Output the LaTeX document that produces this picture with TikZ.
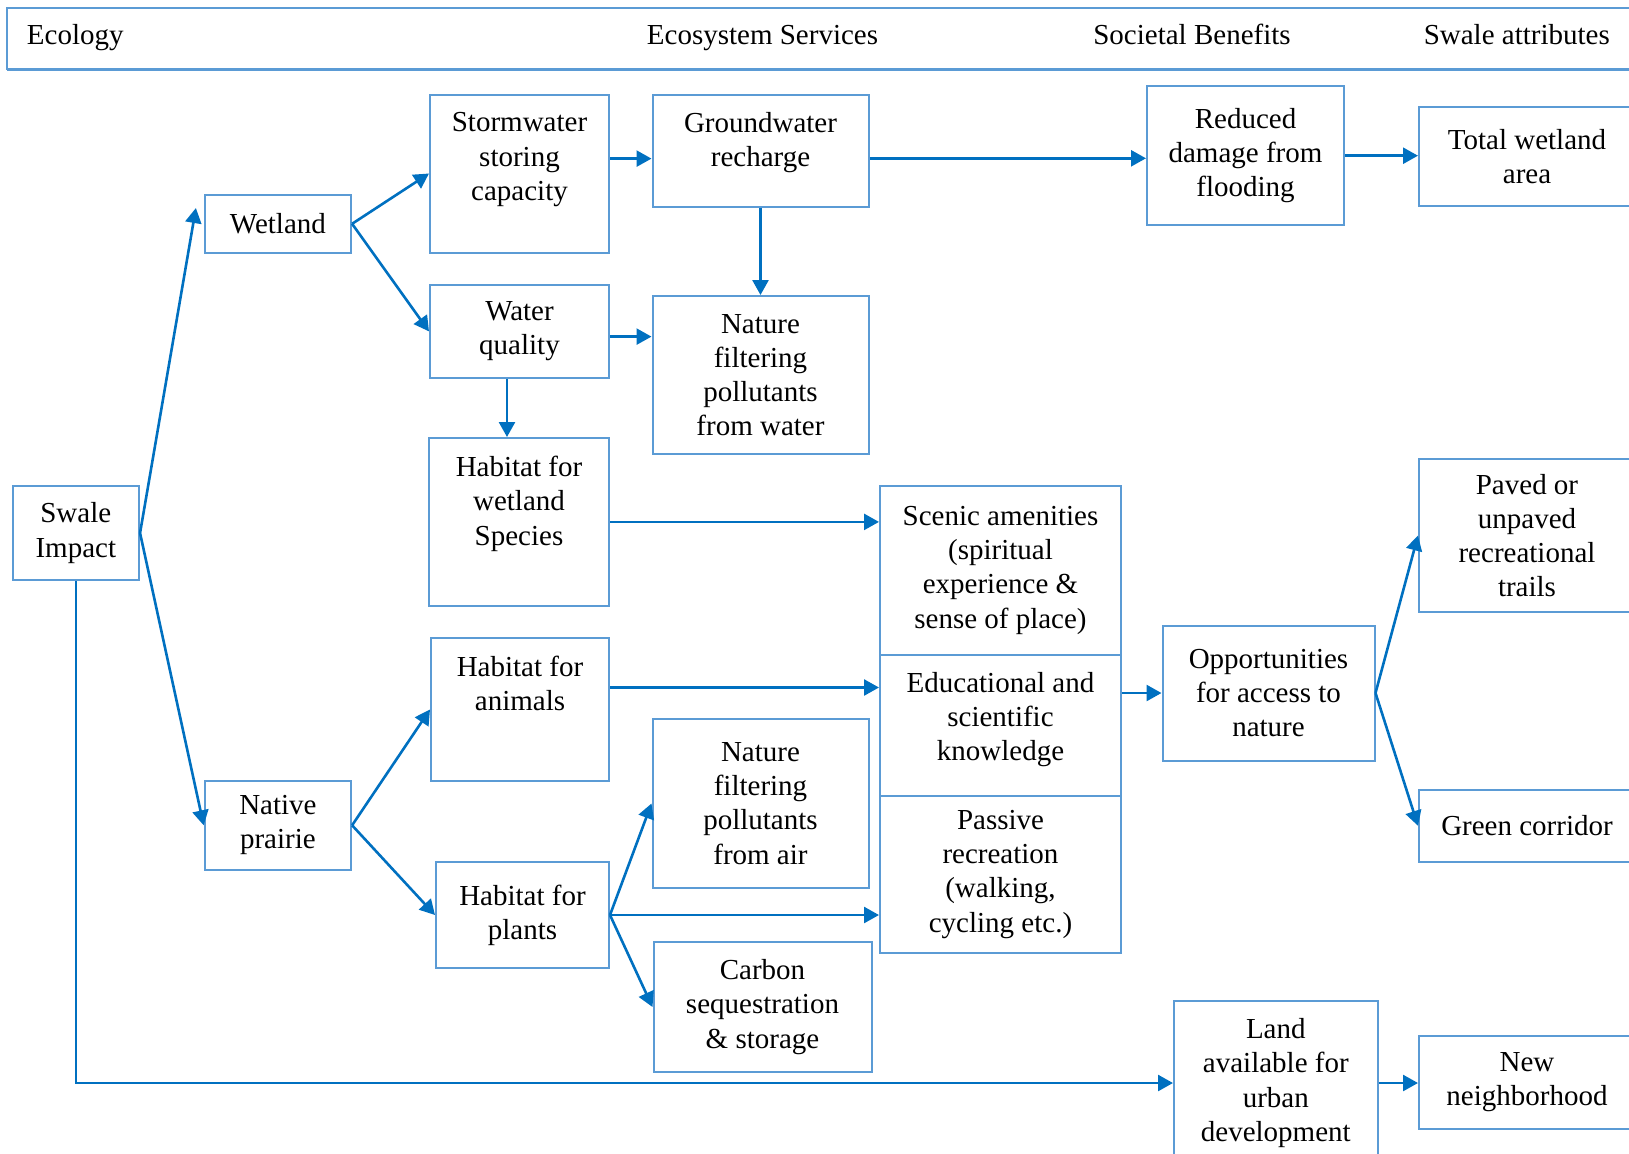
\documentclass[tikz,border=0pt]{standalone}
\usepackage{fontspec}
\setmainfont{Liberation Serif}
\usetikzlibrary{arrows.meta}
\definecolor{linkblue}{RGB}{0,112,192}
\definecolor{edgeblue}{RGB}{91,155,213}
\begin{document}
\begin{tikzpicture}[x=0.5pt,y=-0.5pt,
    >={Triangle[length=7.5pt,width=8pt]},
    box/.style={draw=edgeblue,line width=1pt,align=center,inner sep=0pt,
      font=\fontsize{14.5}{17.1}\selectfont},
    arr/.style={->,draw=linkblue,line width=1.3pt},
    head/.style={anchor=base,font=\fontsize{14.5}{17.1}\selectfont}]
\useasboundingbox (0,0) rectangle (1629,1153);
\draw[edgeblue,line width=1pt] (1640,8.3) -- (7.3,8.3) -- (7.3,69.6);
\draw[edgeblue,line width=1.6pt] (7.3,69.6) -- (1640,69.6);
\node[head] (hecol) at (75.3,44.5) {Ecology};
\node[head] (hserv) at (762.5,44.5) {Ecosystem Services};
\node[head] (hben) at (1192,44.5) {Societal Benefits};
\node[head] (hattr) at (1516.8,44.5) {Swale attributes};

\node[box,minimum width=63.25pt,minimum height=47pt] (swale) at (75.8,533) {Swale\\Impact};
\node[box,minimum width=73.2pt,minimum height=28.8pt] (wetland) at (277.9,223.8) {Wetland};
\node[box,minimum width=73.2pt,minimum height=44.3pt] (native) at (277.9,825.3) {Native\\prairie};
\node[box,minimum width=89.5pt,minimum height=79pt] (storm) at (519.5,173.5) {Stormwater\\storing\\capacity\\~};
\node[box,minimum width=89.5pt,minimum height=46.7pt] (waterq) at (519.5,331.4) {Water\\quality};
\node[box,minimum width=90pt,minimum height=83.9pt] (hwet) at (519,521.9) {Habitat for\\wetland\\Species\\[4.2pt]~};
\node[box,minimum width=89pt,minimum height=71.5pt] (animals) at (520,709.5) {Habitat for\\animals\\[9.4pt]~};
\node[box,minimum width=86.5pt,minimum height=53pt] (plants) at (522.5,915) {Habitat for\\plants};
\node[box,minimum width=108pt,minimum height=56pt] (gw) at (760.5,150.6) {Groundwater\\recharge\\[-6.1pt]~};
\node[box,minimum width=108pt,minimum height=79pt] (nwater) at (760.5,375) {Nature\\filtering\\pollutants\\from water};
\node[box,minimum width=108pt,minimum height=84.5pt] (nair) at (760.5,803.5) {Nature\\filtering\\pollutants\\from air};
\node[box,minimum width=109pt,minimum height=65pt] (carbon) at (762.5,1007) {Carbon\\sequestration\\\& storage};
\node[box,minimum width=120.5pt,minimum height=84.3pt] (scenic) at (1000.5,570.3) {Scenic amenities\\(spiritual\\experience \&\\sense of place)};
\node[box,minimum width=120.5pt,minimum height=70.8pt] (educ) at (1000.5,725.3) {Educational and\\scientific\\knowledge\\[-8.5pt]~};
\node[box,minimum width=120.5pt,minimum height=78.3pt] (passive) at (1000.5,874.3) {Passive\\recreation\\(walking,\\cycling etc.)};
\node[box,minimum width=98.5pt,minimum height=69.7pt] (reduced) at (1245.5,155.7) {Reduced\\damage from\\flooding};
\node[box,minimum width=106pt,minimum height=67.5pt] (opp) at (1268.5,693) {Opportunities\\for access to\\nature};
\node[box,minimum width=101.8pt,minimum height=81.8pt] (land) at (1275.8,1083) {Land\\available for\\urban\\development};
\node[box,minimum width=108pt,minimum height=49.5pt] (total) at (1527,156.5) {Total wetland\\area};
\node[box,minimum width=108pt,minimum height=76.5pt] (paved) at (1527,535.5) {Paved or\\unpaved\\recreational\\trails};
\node[box,minimum width=108pt,minimum height=36.2pt] (green) at (1527,825.8) {Green corridor};
\node[box,minimum width=108pt,minimum height=46.5pt] (newn) at (1527,1082.5) {New\\neighborhood};

\draw[arr] (swale.east) -- ([xshift=-3.9pt,yshift=7.9pt]wetland.west);
\draw[arr] (swale.east) -- (native.west);
\draw[arr] (swale.south) |- (land.west);
\draw[arr] (wetland.east) -- (storm.west);
\draw[arr] (wetland.east) -- (waterq.west);
\draw[arr] (native.east) -- (animals.west);
\draw[arr] (native.east) -- (plants.west);
\draw[arr] ([yshift=-4pt]gw.west -| storm.east) -- ([yshift=-4pt]gw.west);
\draw[arr] ([yshift=-2.6pt]waterq.east) -- ([yshift=-2.6pt]waterq.east -| nwater.west);
\draw[arr] ([xshift=-6.25pt]waterq.south) -- ([xshift=-6.25pt]waterq.south |- hwet.north);
\draw[arr] (gw.south) -- (nwater.north);
\draw[arr] ([yshift=-1.3pt]reduced.west -| gw.east) -- ([yshift=-1.3pt]reduced.west);
\draw[arr] (reduced.east) -- (reduced.east -| total.west);
\draw[arr] (hwet.east) -- (hwet.east -| scenic.west);
\draw[arr] ([yshift=11pt]animals.east) -- ([yshift=11pt]animals.east -| educ.west);
\draw[arr] (plants.east) -- (plants.east -| passive.west);
\draw[arr] (plants.east) -- (nair.west);
\draw[arr] (plants.east) -- (carbon.west);
\draw[arr] (opp.west -| educ.east) -- (opp.west);
\draw[arr] (opp.east) -- (paved.west);
\draw[arr] (opp.east) -- (green.west);
\draw[arr] (land.east) -- (land.east -| newn.west);
\end{tikzpicture}
\end{document}
